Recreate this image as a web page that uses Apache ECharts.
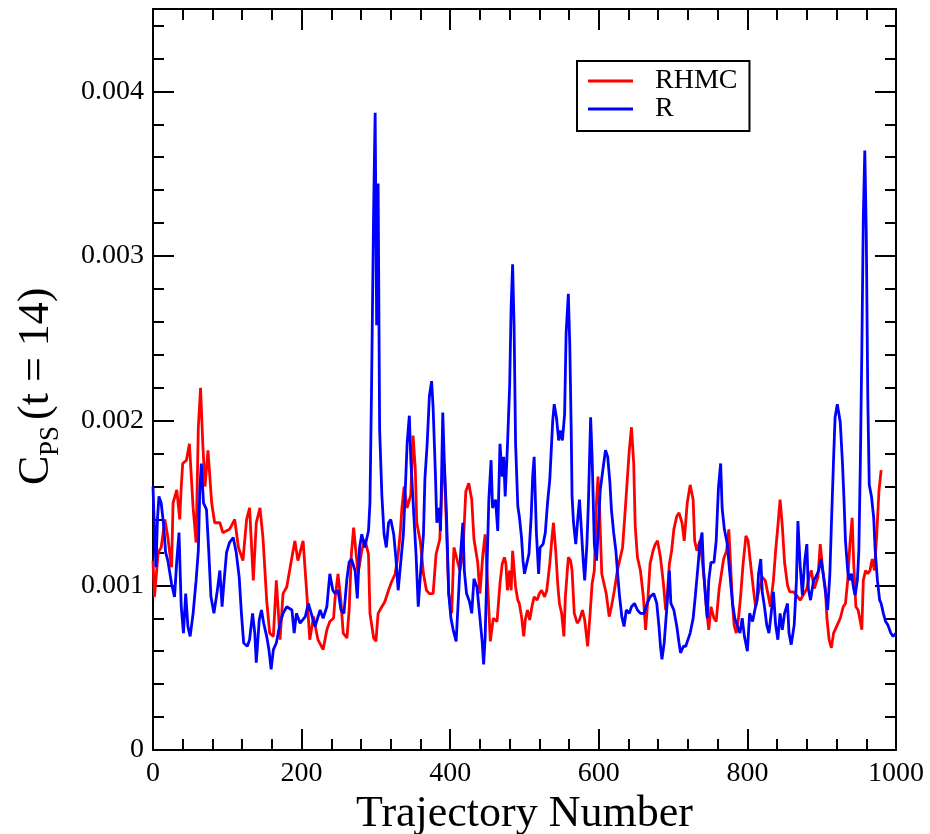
<!DOCTYPE html>
<html>
<head>
<meta charset="utf-8">
<script src="https://cdn.jsdelivr.net/npm/echarts@6/dist/echarts.min.js"></script>
<style>
html,body{margin:0;padding:0;background:#fff;}
#chart{width:930px;height:834px;}
</style>
</head>
<body>
<div id="chart"></div>
<script>
// ---- data: [trajectory number, C_PS(t=14)] ----
const rhmcPoints = [
[0,0.00115],[2,0.00093],[7,0.0012],[11,0.00123],[16,0.0014],[20,0.00129],[25,0.00111],[27,0.0015],[32,0.00158],[36,0.0014],
[38,0.0016],[40,0.00174],[45,0.00176],[49,0.00186],[54,0.00147],[58,0.00126],[61,0.00196],[64,0.0022],[67,0.00186],[70,0.0016],
[74,0.00182],[79,0.0015],[83,0.00138],[90,0.00138],[94,0.00132],[103,0.00134],[110,0.0014],[115,0.00123],[121,0.00115],[126,0.0014],
[130,0.00147],[135,0.00103],[139,0.00138],[144,0.00147],[148,0.00129],[153,0.00091],[157,0.00071],[162,0.00069],[166,0.00103],[171,0.00067],
[175,0.00095],[180,0.00099],[187,0.00117],[191,0.00127],[195,0.00115],[202,0.00127],[207,0.00095],[211,0.00067],[216,0.00081],[222,0.00067],
[229,0.00061],[234,0.00073],[238,0.00078],[243,0.0008],[245,0.00092],[249,0.00107],[253,0.0009],[256,0.00071],[261,0.00068],[264,0.00085],
[267,0.00119],[270,0.00135],[273,0.00121],[276,0.00107],[281,0.00121],[285,0.00128],[290,0.00119],[292,0.00083],[297,0.00068],[300,0.00066],
[303,0.00083],[308,0.00087],[312,0.0009],[317,0.00097],[321,0.00102],[326,0.00107],[330,0.00119],[333,0.00133],[335,0.00147],[338,0.0016],
[342,0.00147],[347,0.00155],[350,0.00191],[353,0.00171],[355,0.00138],[360,0.00126],[364,0.00107],[368,0.00097],[372,0.00095],[377,0.00095],
[381,0.00119],[386,0.00128],[389,0.00162],[392,0.00174],[395,0.00135],[398,0.00095],[402,0.00083],[405,0.00123],[409,0.00116],[413,0.00109],
[417,0.00119],[421,0.00157],[425,0.00162],[429,0.00152],[432,0.00128],[437,0.00114],[440,0.00095],[444,0.00119],[447,0.00131],[450,0.00104],
[454,0.00066],[458,0.0008],[463,0.00078],
[467,0.00101],[470,0.00113],[473,0.00117],[475,0.00113],[477,0.00097],[480,0.00109],[482,0.00097],[484,0.00121],[488,0.00099],[491,0.00091],
[493,0.00089],[496,0.00081],[499,0.00069],[501,0.00079],[504,0.00085],[507,0.00079],[510,0.00087],[513,0.00093],[517,0.00091],[520,0.00095],
[523,0.00097],[527,0.00093],[530,0.00097],[534,0.00113],[537,0.00129],[539,0.00138],[542,0.00121],[545,0.00099],[547,0.00089],[550,0.00083],
[553,0.00069],[555,0.00093],[559,0.00117],[562,0.00115],[564,0.00109],[567,0.00083],[571,0.00077],[574,0.00079],[578,0.00085],[581,0.00079],
[583,0.00071],[585,0.00063],[588,0.00081],[591,0.00101],[594,0.00109],[597,0.00152],[599,0.00166],[601,0.00146],[604,0.00107],[607,0.00101],
[610,0.00095],[614,0.00081],[617,0.00087],[621,0.00097],[625,0.00109],[628,0.00115],[632,0.00123],[635,0.00142],[638,0.00162],[641,0.00182],
[644,0.00196],[647,0.00174],[649,0.00136],[652,0.00117],[656,0.00109],[660,0.00093],[663,0.00073],[666,0.00091],[669,0.00113],[673,0.00121],
[676,0.00125],[679,0.00127],[683,0.00117],[687,0.00101],[690,0.00085],[692,0.00093],[695,0.00113],[698,0.00121],[701,0.00134],[705,0.00142],
[708,0.00144],[712,0.00138],[715,0.00127],[719,0.0015],
[723,0.00161],[727,0.00152],[729,0.00127],[732,0.00121],[736,0.00127],[739,0.00116],[742,0.00103],[745,0.00085],[748,0.00073],[751,0.00087],
[755,0.0008],[758,0.00078],[762,0.00098],[765,0.00107],[768,0.00116],[772,0.00121],[775,0.00134],[777,0.00116],[780,0.00089],[782,0.00076],
[785,0.00071],[788,0.0008],[791,0.00094],[794,0.00112],[798,0.0013],[801,0.00127],[804,0.00114],[808,0.00098],[811,0.00087],[815,0.00096],
[820,0.00105],[824,0.00103],[828,0.00094],[831,0.00087],[835,0.00103],[838,0.00121],[841,0.00136],[844,0.00152],[847,0.00136],[850,0.00114],
[854,0.001],[857,0.00096],[862,0.00096],[866,0.00094],[871,0.00091],[875,0.00094],[880,0.00098],[883,0.00105],[886,0.00109],[890,0.00098],
[895,0.00105],[898,0.00125],[902,0.00107],[905,0.00098],[907,0.0008],[910,0.00067],[913,0.00062],[916,0.00071],[921,0.00076],[925,0.0008],
[929,0.00087],[932,0.00089],[935,0.00103],[938,0.00125],[941,0.00141],[943,0.00114],[946,0.00087],[949,0.00085],[952,0.00078],[954,0.00073],
[956,0.00103],[959,0.00109],[962,0.00107],[965,0.00109],[968,0.00116],[971,0.00109],[974,0.0013],[977,0.00157],[980,0.0017]
];

const rPoints = [
[0,0.0016],[1,0.00146],[4,0.00111],[6,0.0014],[8,0.00154],[11,0.0015],[14,0.00138],[17,0.0012],[20,0.00115],[25,0.00101],
[29,0.00093],[32,0.00115],[35,0.00132],[38,0.00087],[41,0.00071],[44,0.00095],[47,0.00075],[50,0.00069],[54,0.00083],[58,0.00103],
[61,0.00121],[63,0.00158],[65,0.00174],[68,0.0015],[72,0.00146],[75,0.00121],[78,0.00093],[82,0.00083],[86,0.00095],[90,0.00109],
[93,0.00087],[95,0.00099],[99,0.0012],[103,0.00126],[108,0.00129],[112,0.0012],[116,0.00105],[119,0.00083],[122,0.00065],[127,0.00063],
[130,0.00067],[134,0.00083],[137,0.00071],[139,0.00053],[143,0.00079],[146,0.00085],[149,0.00077],[153,0.00069],[156,0.00061],[159,0.00049],
[162,0.00061],[166,0.00065],[171,0.00077],[175,0.00083],[180,0.00087],[187,0.00085],[190,0.00071],[193,0.00083],[198,0.00077],[205,0.00081],
[209,0.00089],[213,0.00083],[218,0.00075],
[225,0.00085],[229,0.0008],[234,0.00087],[238,0.00107],[242,0.00097],[245,0.00095],[249,0.00097],[253,0.00085],[257,0.00083],[261,0.00104],
[264,0.00114],[267,0.00116],[272,0.00109],[275,0.00092],[278,0.00123],[281,0.00131],[285,0.00123],[290,0.00133],[292,0.0015],[294,0.00215],
[297,0.0033],[299,0.00387],[301,0.00258],[303,0.00344],[305,0.00195],[308,0.00155],[311,0.00131],[314,0.00123],[317,0.00138],[320,0.0014],
[324,0.00131],[327,0.00116],[330,0.00097],[333,0.00112],[337,0.00131],[339,0.00152],[342,0.00186],[345,0.00203],[347,0.00176],[351,0.00143],
[354,0.00119],[357,0.00087],[360,0.00107],[364,0.00131],[366,0.00165],[369,0.00186],[372,0.00215],[375,0.00224],[377,0.00208],[380,0.00169],
[382,0.00138],[385,0.00147],[387,0.00133],[390,0.00205],[392,0.00176],[395,0.00143],[398,0.00095],[401,0.0008],[404,0.00073],[408,0.00066],
[411,0.00092],[414,0.00119],[417,0.00138],[419,0.00109],[422,0.00095],[426,0.0009],[429,0.00083],[432,0.00104],[436,0.00099],[439,0.00085],
[443,0.00066],[445,0.00052],[447,0.00068],[449,0.00102],[452,0.00152],[455,0.00176],[457,0.00147],[461,0.00152],[464,0.00133],
[467,0.00186],[470,0.00166],[472,0.00178],[474,0.00154],[477,0.00184],[480,0.00221],[482,0.00269],[484,0.00295],[486,0.00257],[488,0.00186],
[491,0.00148],[493,0.00142],[496,0.00129],[498,0.00115],[500,0.00107],[503,0.00113],[506,0.00119],[509,0.00142],[511,0.00166],[513,0.00178],
[516,0.00132],[519,0.00107],[521,0.00123],[525,0.00125],[528,0.00132],[531,0.0015],[534,0.00164],[536,0.00182],[538,0.002],[540,0.0021],
[543,0.00202],[546,0.00188],[548,0.00194],[551,0.00188],[554,0.00204],[556,0.00253],[559,0.00277],[561,0.00245],[563,0.0019],[564,0.00154],
[566,0.00138],[569,0.00125],[572,0.00142],[574,0.00152],[576,0.00138],[579,0.00115],[581,0.00103],[584,0.00125],[586,0.0015],[589,0.00202],
[591,0.00178],[594,0.00125],[597,0.00115],[599,0.00132],[602,0.00158],[606,0.00172],[609,0.00182],[612,0.00178],[615,0.00162],[617,0.00146],
[620,0.00132],[623,0.00121],[625,0.00109],[628,0.00093],[631,0.00081],[634,0.00075],[637,0.00085],[641,0.00083],[644,0.00087],[648,0.00089],
[652,0.00085],[656,0.00083],[661,0.00083],[665,0.00089],[669,0.00093],[674,0.00095],[678,0.00089],[681,0.00075],[683,0.00063],[685,0.00055],
[688,0.00065],[692,0.00089],[695,0.00109],[697,0.00089],[701,0.00085],[705,0.00075],[708,0.00065],[710,0.00059],[714,0.00063],[717,0.00063],
[723,0.00071],[727,0.0008],[730,0.00094],[733,0.00109],[736,0.00125],[739,0.00132],[741,0.00109],[744,0.00091],[746,0.0008],[748,0.00103],
[751,0.00114],[755,0.00114],[758,0.00127],[761,0.00159],[764,0.00174],[766,0.00147],[769,0.00134],[773,0.00125],[776,0.00109],[780,0.00089],
[783,0.0008],[786,0.00076],[790,0.00071],[793,0.0008],[796,0.00069],[800,0.0006],[803,0.00083],[807,0.00078],[810,0.00085],[813,0.00091],
[815,0.00107],[818,0.00116],[820,0.00096],[823,0.00087],[826,0.00076],[829,0.00071],[832,0.00083],[835,0.00096],[838,0.00076],[841,0.00067],
[844,0.00083],[847,0.00073],[850,0.00083],[854,0.00089],[856,0.00071],[859,0.00064],[863,0.00076],[866,0.00103],[868,0.00139],[871,0.00112],
[874,0.00094],[877,0.00114],[880,0.00125],[882,0.00098],[885,0.00091],[889,0.00103],[892,0.00105],[896,0.00109],[899,0.00116],[902,0.00107],
[905,0.00096],[908,0.00085],[911,0.00107],[913,0.00136],[916,0.00177],[918,0.00202],[921,0.0021],[925,0.00199],[928,0.00174],[930,0.00152],
[932,0.00127],[935,0.00109],[937,0.00103],[940,0.00107],[943,0.00098],[945,0.00094],[948,0.00103],[950,0.00121],[952,0.00174],[954,0.00242],
[956,0.00323],[958,0.00364],[960,0.00314],[962,0.00215],[964,0.00161],[967,0.00154],[970,0.00141],[972,0.00121],[975,0.00103],[978,0.00091],
[980,0.00089],[983,0.00083],[986,0.00078],[989,0.00076],[993,0.00071],[996,0.00069],[1000,0.00071]
];

const seriesNames = ['RHMC', 'R'];
const seriesColors = ['#ff0000', '#0000ff'];
const xTitle = 'Trajectory Number';

// ---- chart ----
const FONT = '"Liberation Serif", "DejaVu Serif", serif';
const black = '#000';
const lineS = {color: black, width: 2};

function xAx(pos, interval, len, major) {
  return {
    type: 'value', min: 0, max: 1000, interval: interval, position: pos,
    axisLine: {show: major, onZero: false, lineStyle: lineS},
    axisTick: {show: true, inside: true, length: len, lineStyle: lineS},
    axisLabel: {show: false},
    splitLine: {show: false}
  };
}
function yAx(pos, interval, len, major) {
  return {
    type: 'value', min: 0, max: 0.0045, interval: interval, position: pos,
    axisLine: {show: major, onZero: false, lineStyle: lineS},
    axisTick: {show: true, inside: true, length: len, lineStyle: lineS},
    axisLabel: {show: false},
    splitLine: {show: false}
  };
}

const xMain = xAx('bottom', 200, 21, true);
xMain.axisLabel = {show: true, fontFamily: FONT, fontSize: 28, color: black, margin: 10,
  formatter: v => String(v)};
xMain.name = xTitle;
xMain.nameLocation = 'middle';
xMain.nameGap = 34;
xMain.nameTextStyle = {fontFamily: FONT, fontSize: 44, color: black};

const yMain = yAx('left', 0.001, 21, true);
yMain.axisLabel = {
  show: true, fontFamily: FONT, fontSize: 28, color: black, margin: 9,
  showMaxLabel: false,
  formatter: v => (Math.abs(v) < 1e-12 ? '0' : (Math.abs(v * 1000 - Math.round(v * 1000)) < 1e-6 ? v.toFixed(3) : ''))
};

const option = {
  animation: false,
  backgroundColor: '#fff',
  grid: {left: 153, right: 34, top: 9, bottom: 84, containLabel: false, outerBoundsMode: 'none'},
  xAxis: [
    xMain,
    xAx('bottom', 40, 11, false),
    xAx('top', 200, 21, true),
    xAx('top', 40, 11, false)
  ],
  yAxis: [
    yMain,
    yAx('left', 0.0002, 11, false),
    yAx('right', 0.001, 21, true),
    yAx('right', 0.0002, 11, false)
  ],
  legend: {
    show: true,
    data: seriesNames,
    orient: 'vertical',
    left: 577, top: 61,
    padding: [6, 12, 8, 11],
    icon: 'rect',
    itemWidth: 45, itemHeight: 3, itemGap: 0,
    backgroundColor: '#fff',
    borderColor: black, borderWidth: 2, borderRadius: 0,
    selectedMode: false,
    textStyle: {fontFamily: FONT, fontSize: 28, color: black, lineHeight: 28, padding: [0, 0, 0, 17]}
  },
  graphic: [
    {type: 'text', x: 36, y: 485, rotation: Math.PI / 2,
     style: {text: 'C', font: '44px "Liberation Serif"', fill: black, align: 'left', verticalAlign: 'middle'}},
    {type: 'text', x: 51, y: 456, rotation: Math.PI / 2,
     style: {text: 'PS', font: '27px "Liberation Serif"', fill: black, align: 'left', verticalAlign: 'middle'}},
    {type: 'text', x: 36, y: 420, rotation: Math.PI / 2,
     style: {text: '(t = 14)', font: '44px "Liberation Serif"', fill: black, align: 'left', verticalAlign: 'middle'}}
  ],
  series: [
    {
      name: seriesNames[0], type: 'line', xAxisIndex: 0, yAxisIndex: 0,
      data: rhmcPoints, symbol: 'none', showSymbol: false,
      lineStyle: {color: seriesColors[0], width: 2.8},
      itemStyle: {color: seriesColors[0]},
      z: 2
    },
    {
      name: seriesNames[1], type: 'line', xAxisIndex: 0, yAxisIndex: 0,
      data: rPoints, symbol: 'none', showSymbol: false,
      lineStyle: {color: seriesColors[1], width: 2.8},
      itemStyle: {color: seriesColors[1]},
      z: 3
    }
  ]
};

const chart = echarts.init(document.getElementById('chart'), null, {renderer: 'canvas'});
chart.setOption(option);
</script>
</body>
</html>
